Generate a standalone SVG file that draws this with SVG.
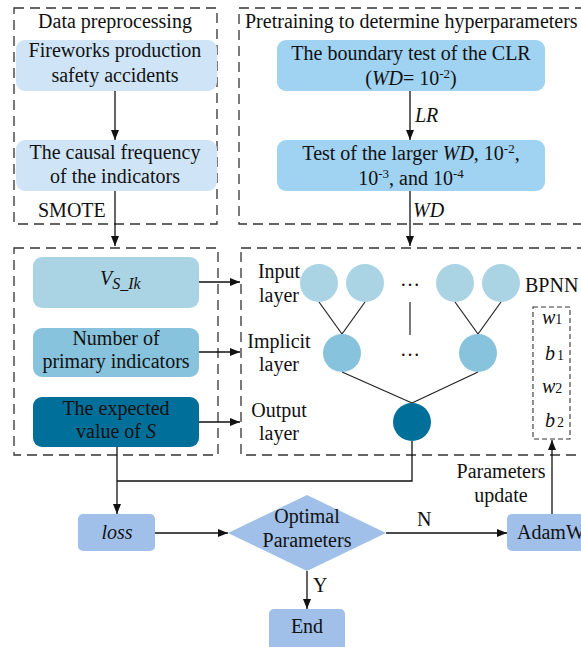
<svg xmlns="http://www.w3.org/2000/svg" width="581" height="647" viewBox="0 0 581 647">
<defs>
<marker id="ah" viewBox="0 0 10 10" refX="10" refY="5" markerWidth="10" markerHeight="10" markerUnits="userSpaceOnUse" orient="auto">
<path d="M0,1 L10,5 L0,9 Z" fill="#111"/>
</marker>
<style>
text{font-family:"Liberation Serif","Times New Roman",serif;font-size:20px;fill:#111}
.m{text-anchor:middle}
.i{font-style:italic}
.dash{fill:none;stroke:#333;stroke-width:1.3;stroke-dasharray:10 6}
.dash2{fill:none;stroke:#333;stroke-width:1.1;stroke-dasharray:5 3}
.ln{fill:none;stroke:#111;stroke-width:1.3}
.ar{fill:none;stroke:#111;stroke-width:1.3;marker-end:url(#ah)}
.pre{fill:#cfe5f7}
.pt{fill:#a0d2f2}
.c1{fill:#aad4e4}
.c2{fill:#87c3dc}
.c3{fill:#00709a}
.bt{fill:#a0c0ea}
.nl{fill:none;stroke:#222;stroke-width:1.2}
</style>
</defs>

<g id="group-data-preprocessing">
<rect class="dash" x="14" y="8" width="203" height="216"/>
<text class="m" x="115" y="28">Data preprocessing</text>
</g>
<g id="group-pretraining">
<rect class="dash" x="239" y="8" width="360" height="216"/>
<text x="245" y="28">Pretraining to determine hyperparameters</text>
</g>
<g id="group-inputs">
<rect class="dash" x="14" y="248" width="204" height="207"/>
</g>
<g id="group-bpnn">
<rect class="dash" x="241" y="248" width="360" height="207"/>
<text x="525" y="292">BPNN</text>
</g>

<g id="node-fireworks">
<rect class="pre" x="16" y="40" width="201" height="51" rx="9"/>
<text class="m" x="115" y="57">Fireworks production</text>
<text class="m" x="115" y="82">safety accidents</text>
</g>
<g id="node-causal">
<rect class="pre" x="16" y="140" width="201" height="51" rx="9"/>
<text class="m" x="115" y="159">The causal frequency</text>
<text class="m" x="115" y="183">of the indicators</text>
</g>
<text id="label-smote" x="38" y="217">SMOTE</text>

<g id="node-clr">
<rect class="pt" x="277" y="40" width="268" height="51" rx="9"/>
<text class="m" x="411" y="60">The boundary test of the CLR</text>
<text class="m" x="411" y="85">(<tspan class="i">WD</tspan>= 10<tspan dy="-7" font-size="13">-2</tspan><tspan dy="7">)</tspan></text>
</g>
<g id="node-wd-test">
<rect class="pt" x="277" y="140" width="268" height="51" rx="9"/>
<text class="m" x="411" y="160">Test of the larger <tspan class="i">WD</tspan>, 10<tspan dy="-7" font-size="13">-2</tspan><tspan dy="7">,</tspan></text>
<text class="m" x="411" y="185">10<tspan dy="-7" font-size="13">-3</tspan><tspan dy="7">, and 10</tspan><tspan dy="-7" font-size="13">-4</tspan></text>
</g>

<g id="node-vs">
<rect class="c1" x="33" y="257" width="166" height="51" rx="9"/>
<text x="100" y="285"><tspan class="i">V</tspan><tspan class="i" font-size="16" dy="4">S_Ik</tspan></text>
</g>
<g id="node-number">
<rect class="c2" x="33" y="328" width="166" height="49" rx="9"/>
<text class="m" x="116" y="345">Number of</text>
<text class="m" x="116" y="368">primary indicators</text>
</g>
<g id="node-expected">
<rect class="c3" x="33" y="397" width="166" height="50" rx="9"/>
<text class="m" x="116" y="415">The expected</text>
<text class="m" x="116" y="438">value of <tspan class="i">S</tspan></text>
</g>

<g id="nn-edges">
<line class="nl" x1="319" y1="302" x2="342" y2="334"/>
<line class="nl" x1="365" y1="302" x2="342" y2="334"/>
<line class="nl" x1="455" y1="302" x2="478" y2="334"/>
<line class="nl" x1="501" y1="302" x2="478" y2="334"/>
<line class="nl" x1="410" y1="302" x2="410" y2="335"/>
<line class="nl" x1="342" y1="372" x2="412" y2="403"/>
<line class="nl" x1="478" y1="372" x2="412" y2="403"/>
</g>
<g id="layer-input">
<text class="m" x="279" y="278">Input</text>
<text class="m" x="279" y="302">layer</text>
<circle class="c1" cx="319" cy="283" r="19"/>
<circle class="c1" cx="365" cy="283" r="19"/>
<text class="m" x="410" y="286" font-size="17">…</text>
<circle class="c1" cx="455" cy="283" r="19"/>
<circle class="c1" cx="501" cy="283" r="19"/>
</g>
<g id="layer-implicit">
<text class="m" x="279" y="348">Implicit</text>
<text class="m" x="279" y="371">layer</text>
<circle class="c2" cx="342" cy="353" r="19"/>
<text class="m" x="410" y="356" font-size="17">…</text>
<circle class="c2" cx="478" cy="353" r="19"/>
</g>
<g id="layer-output">
<text class="m" x="279" y="417">Output</text>
<text class="m" x="279" y="440">layer</text>
<circle class="c3" cx="412" cy="422" r="19"/>
</g>
<g id="node-params">
<rect class="dash2" x="533" y="307" width="37" height="132"/>
<text x="542" y="324" font-size="19"><tspan class="i">w</tspan><tspan font-size="14">1</tspan></text>
<text x="545" y="360" font-size="19"><tspan class="i">b</tspan><tspan font-size="14" dx="2">1</tspan></text>
<text x="542" y="393" font-size="19"><tspan class="i">w</tspan><tspan font-size="14">2</tspan></text>
<text x="545" y="427" font-size="19"><tspan class="i">b</tspan><tspan font-size="14" dx="2">2</tspan></text>
</g>

<g id="node-loss">
<rect class="bt" x="78" y="514" width="77" height="37" rx="5"/>
<text class="m i" x="117" y="539">loss</text>
</g>
<g id="node-optimal">
<polygon class="bt" points="228,533 307,495 386,533 307,571"/>
<text class="m" x="307" y="523">Optimal</text>
<text class="m" x="307" y="547">Parameters</text>
</g>
<g id="node-adamw">
<rect class="bt" x="507" y="514" width="110" height="37" rx="5"/>
<text x="517" y="539">AdamW</text>
</g>
<g id="node-end">
<rect class="bt" x="269" y="609" width="76" height="45" rx="5"/>
<text class="m" x="307" y="633">End</text>
</g>

<g id="connectors">
<line class="ar" x1="115" y1="91" x2="115" y2="140"/>
<line class="ar" x1="115" y1="191" x2="115" y2="246"/>
<line class="ar" x1="410" y1="91" x2="410" y2="140"/>
<line class="ar" x1="410" y1="191" x2="410" y2="246"/>
<line class="ar" x1="199" y1="282" x2="240" y2="282"/>
<line class="ar" x1="199" y1="352" x2="240" y2="352"/>
<line class="ar" x1="199" y1="422" x2="240" y2="422"/>
<line class="ar" x1="117" y1="447" x2="117" y2="514"/>
<polyline class="ln" points="412,441 412,481 117,481"/>
<line class="ar" x1="155" y1="533" x2="228" y2="533"/>
<line class="ar" x1="386" y1="533" x2="507" y2="533"/>
<line class="ar" x1="307" y1="571" x2="307" y2="609"/>
<line class="ar" x1="552" y1="514" x2="552" y2="440"/>
<text class="i" x="415" y="122">LR</text>
<text class="i" x="413" y="217">WD</text>
<text x="417" y="526">N</text>
<text x="313" y="592">Y</text>
<text class="m" x="501" y="478">Parameters</text>
<text class="m" x="501" y="502">update</text>
</g>
</svg>
